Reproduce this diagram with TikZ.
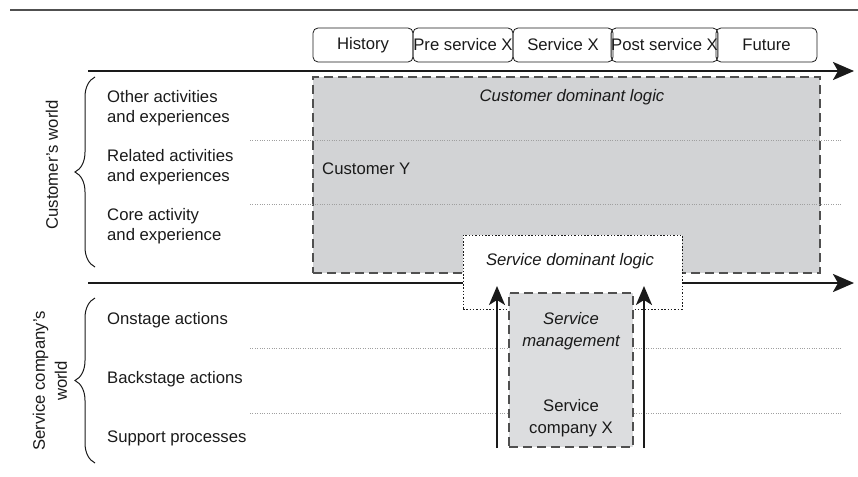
\documentclass[tikz,border=0pt]{standalone}
\usepackage{fontspec}
\setmainfont{Liberation Sans}
\usetikzlibrary{arrows.meta,decorations.pathreplacing}

\definecolor{ink}{HTML}{1A1A1A}
\definecolor{cdlgray}{HTML}{D2D3D5}
\definecolor{smgray}{HTML}{DCDDDF}
\definecolor{edge}{HTML}{505050}

\tikzset{
  txt/.style={text=ink,font=\fontsize{16.7}{20}\selectfont,inner sep=0pt},
  lbl/.style={txt,anchor=west,align=left},
  phase/.style={txt,draw=ink,line width=0.8pt,rounded corners=5pt,
    minimum height=34pt},
  timeline/.style={draw=ink,line width=2.6pt,
    -{Stealth[length=21pt,width=18pt,inset=5pt]}},
  uparrow/.style={draw=ink,line width=2.2pt,
    -{Stealth[length=19pt,width=16pt,inset=5pt]}},
  dashbox/.style={draw=edge,line width=1.2pt,dash pattern=on 9pt off 5pt},
  dotline/.style={draw=gray!75,line width=0.9pt,dash pattern=on 1pt off 1.4pt},
  dotbox/.style={draw=ink,fill=white,line width=1pt,dash pattern=on 1.5pt off 1.8pt},
  worldbrace/.style={draw=ink,line width=1pt,decorate,
    decoration={brace,amplitude=20pt}},
}

\begin{document}
\begin{tikzpicture}[x=1pt,y=-1pt]
\useasboundingbox (0,0) rectangle (858,476);

% rule across the top
\draw[edge,line width=1.3pt] (10,10) -- (858,10);

% customer dominant logic area
\node[dashbox,fill=cdlgray,minimum width=507pt,minimum height=196pt,inner sep=0pt]
  (cdl) at (566.5,175) {};

% layer separators
\coordinate (d1a) at (250,140); \coordinate (d1b) at (841,140);
\coordinate (d2a) at (250,204); \coordinate (d2b) at (841,204);
\coordinate (d3a) at (250,348); \coordinate (d3b) at (841,348);
\coordinate (d4a) at (250,413); \coordinate (d4b) at (841,413);
\draw[dotline] (d1a) -- (d1b);
\draw[dotline] (d2a) -- (d2b);
\draw[dotline] (d3a) -- (d3b);
\draw[dotline] (d4a) -- (d4b);

% time axes
\coordinate (t1a) at (88,71);  \coordinate (t1b) at (854,71);
\coordinate (t2a) at (88,283); \coordinate (t2b) at (854,283);
\draw[timeline] (t1a) -- (t1b);
\draw[timeline] (t2a) -- (t2b);

% service dominant logic window
\node[dotbox,minimum width=219pt,minimum height=74pt,inner sep=0pt]
  (sdl) at (572.5,272) {};

% service management area
\node[dashbox,fill=smgray,minimum width=124pt,minimum height=154pt,inner sep=0pt]
  (sm) at (571,370) {};

% upward arrows
\coordinate (ua1) at (497,448); \coordinate (ub1) at (497,286);
\coordinate (ua2) at (644,448); \coordinate (ub2) at (644,286);
\draw[uparrow] (ua1) -- (ub1);
\draw[uparrow] (ua2) -- (ub2);

% phases
\node[phase,minimum width=100pt] (hist) at (363,45) {History};
\node[phase,minimum width=100pt] (pre)  at (463,45) {Pre service X};
\node[phase,minimum width=100pt] (serv) at (563,45) {Service X};
\node[phase,minimum width=103pt] (post) at (664.5,45) {Post service X};
\node[phase,minimum width=101pt] (fut)  at (766.5,45) {Future};

% texts inside the areas
\node[txt,font=\fontsize{16.7}{20}\selectfont\itshape] (cdlt) at (572,97) {Customer dominant logic};
\node[lbl] (cy) at (322,169) {Customer Y};
\node[txt,font=\fontsize{16.7}{20}\selectfont\itshape] (sdlt) at (570,261) {Service dominant logic};
\node[txt,align=center,font=\fontsize{16.7}{21.5}\selectfont\itshape] (smt) at (571,331) {Service\\management};
\node[txt,align=center,font=\fontsize{16.7}{21.5}\selectfont] (sct) at (571,418) {Service\\company X};

% layer labels
\node[lbl,font=\fontsize{16.7}{19.5}\selectfont] (l1) at (107,108) {Other activities\\and experiences};
\node[lbl,font=\fontsize{16.7}{19.5}\selectfont] (l2) at (107,167) {Related activities\\and experiences};
\node[lbl,font=\fontsize{16.7}{19.5}\selectfont] (l3) at (107,226) {Core activity\\and experience};
\node[lbl] (l4) at (107,320) {Onstage actions};
\node[lbl] (l5) at (107,379) {Backstage actions};
\node[lbl] (l6) at (107,438) {Support processes};

% worlds
\coordinate (b1a) at (95,267); \coordinate (b1b) at (95,77);
\coordinate (b2a) at (95,463); \coordinate (b2b) at (95,298);
\draw[worldbrace] (b1a) -- (b1b);
\draw[worldbrace] (b2a) -- (b2b);
\node[txt,rotate=90] (cw) at (52,165) {Customer’s world};
\node[txt,rotate=90,align=center,font=\fontsize{16.7}{22}\selectfont] (sw) at (50,381) {Service company’s\\world};
\end{tikzpicture}
\end{document}
